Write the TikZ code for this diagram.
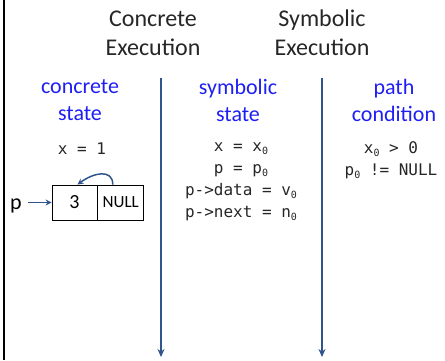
\documentclass[tikz,border=0pt]{standalone}
\usepackage{fontspec}
\setmainfont{Carlito}
\setmonofont{DejaVu Sans Mono}
\usetikzlibrary{arrows.meta,positioning}

\definecolor{flowblue}{RGB}{47,85,140}
\definecolor{headblue}{RGB}{30,30,245}
\newcommand{\zsub}{\raisebox{-0.35ex}{\fontsize{10}{10}\selectfont 0}}

\tikzset{
  title/.style={align=center, font=\fontsize{24}{29}\selectfont, text=black!85},
  head/.style={align=center, font=\fontsize{22}{27}\selectfont, text=headblue},
  code/.style={align=center, font=\ttfamily\fontsize{16}{22}\selectfont, text=black!85},
  cell/.style={draw, line width=0.8pt, minimum height=35pt, inner sep=0pt},
  ptr/.style={-{Stealth[length=6pt,width=6pt]}, flowblue, line width=1.5pt},
  flow/.style={-{Stealth[length=8pt,width=7pt]}, flowblue, line width=1.8pt}
}

\begin{document}
\begin{tikzpicture}[x=1pt,y=-1pt]
\useasboundingbox (0,0) rectangle (445,360);

\draw[line width=2pt] (4,0) -- (4,360);

\node[title] (ctitle) at (153,33) {Concrete\\Execution};
\node[title] (stitle) at (322,33) {Symbolic\\Execution};

\foreach \x in {161,322} {
  \coordinate (top\x) at (\x,78);
  \coordinate (bot\x) at (\x,357);
  \draw[flow] (top\x) -- (bot\x);
}

\node[head] (chead) at (80,100) {concrete\\state};
\node[head] (shead) at (238,100) {symbolic\\state};
\node[head] (phead) at (394,100) {path\\condition};

\node[code] (cval) at (82,149) {x = 1};
\node[code] (sval) at (241,182) {x = x\zsub\\p = p\zsub\\p->data = v\zsub\\p->next = n\zsub};
\node[code] (pval) at (391,160) {x\zsub{} > 0\\p\zsub{} != NULL};

\node[cell, minimum width=45pt, font=\fontsize{20}{20}\selectfont] (data) at (74.5,202.5) {3};
\node[cell, minimum width=46pt, right=0pt of data, font=\fontsize{17}{17}\selectfont] (next) {NULL};
\node[font=\fontsize{22}{22}\selectfont, inner sep=2pt] (p) at (16,206) {p};

\draw[ptr, shorten <=4pt] (p.east |- data.west) -- (data.west);
\draw[ptr] ([xshift=-8pt]next.north) .. controls +(0,-16) and +(16,-12) .. ([xshift=3pt]data.north);

\end{tikzpicture}
\end{document}
